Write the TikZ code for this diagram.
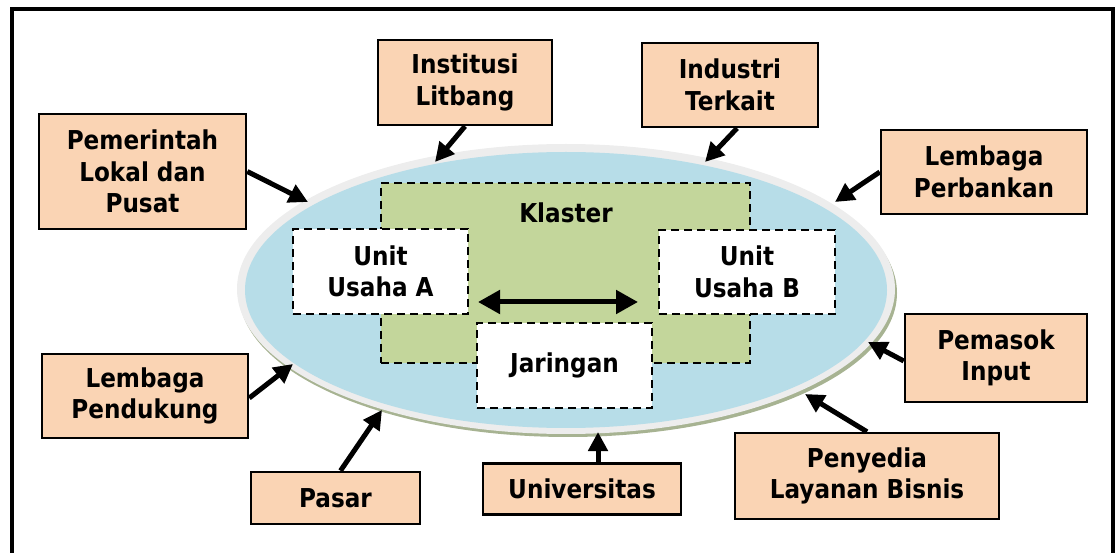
\documentclass[tikz,border=0pt]{standalone}
\usepackage{fontspec}
\setmainfont{DejaVu Sans}[FakeStretch=0.89]
\usetikzlibrary{arrows.meta}

\definecolor{peach}{HTML}{FAD4B4}
\definecolor{skyfill}{HTML}{B7DDE8}
\definecolor{klasterfill}{HTML}{C3D69B}
\definecolor{rimgray}{HTML}{EDEDED}
\definecolor{rimshadow}{HTML}{A7B392}

\tikzset{
  bigtext/.style={font=\fontsize{26}{31.5}\selectfont\bfseries},
  actor/.style={bigtext, draw, line width=2.5pt, fill=peach, align=center, inner sep=0pt},
  dashbox/.style={draw, line width=2.5pt, dash pattern=on 8pt off 5pt},
  unitbox/.style={bigtext, dashbox, fill=white, align=center, inner sep=0pt},
  push/.style={-{Triangle[length=19pt,width=19pt]}, line width=5pt},
  link/.style={{Triangle[length=22pt,width=23pt]}-{Triangle[length=22pt,width=23pt]}, line width=5pt},
}

\begin{document}
\begin{tikzpicture}[x=1pt,y=-1pt]
  \useasboundingbox (0,0) rectangle (1120,553);
  \clip (0,0) rectangle (1120,553);
  \draw[line width=3.5pt] (12,9) rectangle (1113,575);

  % the cluster ellipse
  \fill[rimshadow] (568,293) ellipse [x radius=329pt, y radius=144pt];
  \fill[rimgray] (566,289) ellipse [x radius=329pt, y radius=145pt];
  \fill[skyfill] (566,290) ellipse [x radius=321pt, y radius=138pt];

  \node[dashbox, fill=klasterfill, minimum width=369pt, minimum height=180pt] (klaster) at (565.5,273) {};
  \node[bigtext] (klastertitle) at (566,213) {Klaster};
  \node[unitbox, minimum width=175pt, minimum height=85pt] (usahaA) at (380.5,271.5) {Unit\\Usaha A};
  \node[unitbox, minimum width=176pt, minimum height=84pt] (usahaB) at (747,272) {Unit\\Usaha B};
  \node[unitbox, minimum width=175pt, minimum height=85pt] (jaringan) at (564.5,365.5) {Jaringan};
  \coordinate (linkL) at (478,302);
  \coordinate (linkR) at (638,302);
  \draw[link] (linkL) -- (linkR);

  % actors around the cluster
  \node[actor, minimum width=207pt, minimum height=115pt] (pemerintah) at (142.5,171.5) {Pemerintah\\Lokal dan\\Pusat};
  \node[actor, minimum width=174pt, minimum height=85pt] (litbang) at (465,82.5) {Institusi\\Litbang};
  \node[actor, minimum width=176pt, minimum height=84pt] (industri) at (730,85) {Industri\\Terkait};
  \node[actor, minimum width=206pt, minimum height=84pt] (perbankan) at (984,172) {Lembaga\\Perbankan};
  \node[actor, minimum width=182pt, minimum height=88pt] (pemasok) at (996,358) {Pemasok\\Input};
  \node[actor, minimum width=264pt, minimum height=86pt] (penyedia) at (867,476) {Penyedia\\Layanan Bisnis};
  \node[actor, minimum width=198pt, minimum height=51pt] (universitas) at (582,489) {Universitas};
  \node[actor, minimum width=169pt, minimum height=52pt] (pasar) at (335.5,498) {Pasar};
  \node[actor, minimum width=206pt, minimum height=84pt] (pendukung) at (145,396) {Lembaga\\Pendukung};

  \coordinate (tipPemerintah) at (308,202);
  \coordinate (tipLitbang) at (435,162);
  \coordinate (tipIndustri) at (705,162);
  \coordinate (tipPerbankan) at (835,202);
  \coordinate (tipPemasok) at (868,342);
  \coordinate (tipPenyedia) at (805,394);
  \coordinate (tipUniversitas) at (598,432);
  \coordinate (tipPasar) at (382,410);
  \coordinate (tipPendukung) at (293,364);

  \draw[push] (pemerintah.east) -- (tipPemerintah);
  \draw[push] (litbang.south) -- (tipLitbang);
  \draw[push] ([xshift=7pt]industri.south) -- (tipIndustri);
  \draw[push] (perbankan.west) -- (tipPerbankan);
  \draw[push] ([yshift=-3pt]pemasok.west) -- (tipPemasok);
  \draw[push] (penyedia.north) -- (tipPenyedia);
  \draw[push] ([xshift=16pt]universitas.north) -- (tipUniversitas);
  \draw[push] ([xshift=5pt]pasar.north) -- (tipPasar);
  \draw[push] ([yshift=-2pt]pendukung.east) -- (tipPendukung);
\end{tikzpicture}
\end{document}
